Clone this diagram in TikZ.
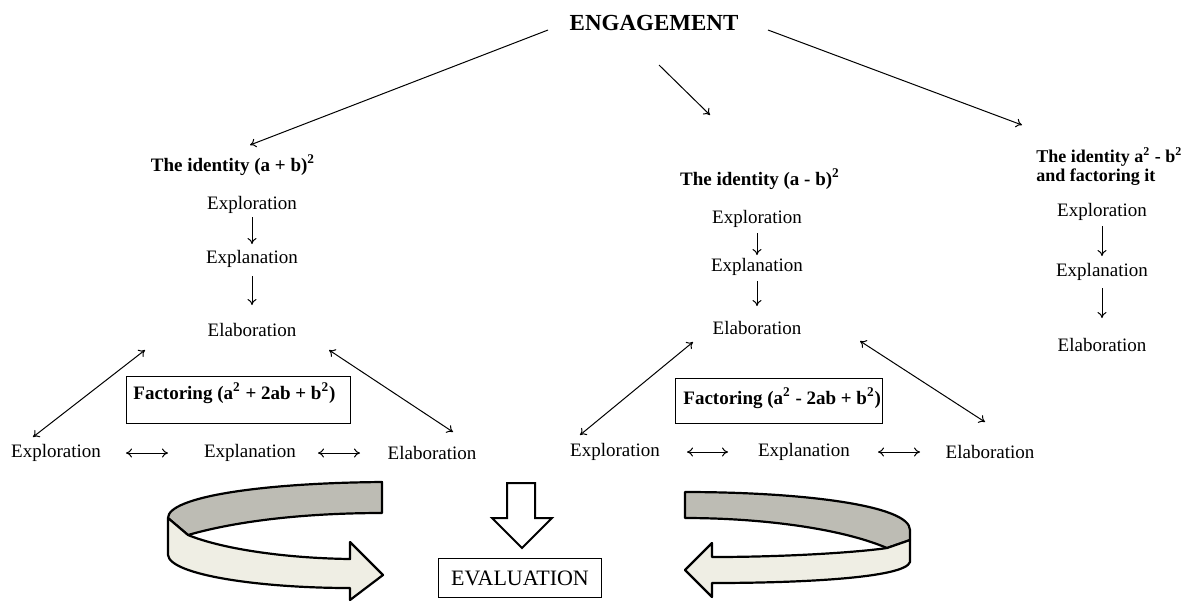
\documentclass[tikz,border=0pt]{standalone}
\usepackage{fontspec}
\setmainfont{Liberation Serif}
\usetikzlibrary{arrows.meta}
\definecolor{backband}{HTML}{BDBCB4}
\definecolor{frontband}{HTML}{EFEEE4}
\begin{document}
\begin{tikzpicture}[x=0.5pt,y=-0.5pt,
  txt/.style={inner sep=0pt, font=\fontsize{9.5}{11}\selectfont},
  ttl/.style={inner sep=0pt, font=\fontsize{9.5}{11}\selectfont\bfseries},
  arr/.style={-{To[length=3pt,width=4.5pt]}, line width=0.5pt},
  darr/.style={{To[length=3pt,width=4.5pt]}-{To[length=3pt,width=4.5pt]}, line width=0.5pt},
  fbox/.style={draw, line width=0.6pt, inner sep=0pt, anchor=north west},
  band/.style={draw, line width=1.1pt, line join=round},
  hollow/.style={draw, fill=white, line width=1pt, line join=miter}]
\useasboundingbox (0,0) rectangle (1187,602);

% top
\node[inner sep=0pt, font=\fontsize{11.5}{13}\selectfont\bfseries] (eng) at (654,23) {ENGAGEMENT};
\coordinate (eL) at (548,30);
\coordinate (eM) at (659,65);
\coordinate (eR) at (768,30);
\coordinate (tL) at (250,145);
\coordinate (tM) at (710,115);
\coordinate (tR) at (1022,125);
\draw[arr] (eL) -- (tL);
\draw[arr] (eM) -- (tM);
\draw[arr] (eR) -- (tR);

% left column
\node[ttl] (t1) at (233,165) {The identity (a + b)\textsuperscript{2}};
\node[txt] (x1) at (252,205) {Exploration};
\node[txt] (p1) at (252,259) {Explanation};
\node[txt] (l1) at (252,330) {Elaboration};
\draw[arr, shorten <=6pt, shorten >=7.5pt] (x1.center) -- (p1.center);
\draw[arr, shorten <=8.5pt, shorten >=12.5pt] (p1.center) -- (l1.center);

\node[fbox, minimum width=112pt, minimum height=23.5pt] (fb1) at (126,376) {};
\node[ttl, anchor=west] (fb1t) at (133,393) {Factoring (a\textsuperscript{2} + 2ab + b\textsuperscript{2})};

\node[txt] (bx1) at (56,453) {Exploration};
\node[txt] (bp1) at (250,453) {Explanation};
\node[txt] (bl1) at (432,453) {Elaboration};
\draw[darr, shorten <=35pt, shorten >=41pt] (bx1.center) -- (bp1.center);
\draw[darr, shorten <=34pt, shorten >=36pt] (bp1.center) -- (bl1.center);
\coordinate (d1a) at (145,350);
\coordinate (d1b) at (33,437);
\coordinate (d2a) at (329,350);
\coordinate (d2b) at (453,432);
\draw[darr] (d1a) -- (d1b);
\draw[darr] (d2a) -- (d2b);

% middle column
\node[ttl] (t2) at (760,179) {The identity (a - b)\textsuperscript{2}};
\node[txt] (x2) at (757,219) {Exploration};
\node[txt] (p2) at (757,267) {Explanation};
\node[txt] (l2) at (757,328) {Elaboration};
\draw[arr, shorten <=7pt, shorten >=6pt] (x2.center) -- (p2.center);
\draw[arr, shorten <=7pt, shorten >=11pt] (p2.center) -- (l2.center);

\node[fbox, minimum width=103.5pt, minimum height=22.5pt] (fb2) at (675,378) {};
\node[ttl, anchor=west] (fb2t) at (683,398) {Factoring (a\textsuperscript{2} - 2ab + b\textsuperscript{2})};

\node[txt] (bx2) at (615,452) {Exploration};
\node[txt] (bp2) at (804,452) {Explanation};
\node[txt] (bl2) at (990,452) {Elaboration};
\draw[darr, shorten <=36pt, shorten >=38pt] (bx2.center) -- (bp2.center);
\draw[darr, shorten <=37pt, shorten >=35pt] (bp2.center) -- (bl2.center);
\coordinate (d3a) at (693,342);
\coordinate (d3b) at (580,435);
\coordinate (d4a) at (860,341);
\coordinate (d4b) at (985,422);
\draw[darr] (d3a) -- (d3b);
\draw[darr] (d4a) -- (d4b);

% right column
\node[inner sep=0pt, anchor=west, font=\fontsize{9}{10.5}\selectfont\bfseries] (t3a) at (1036,157) {The identity a\textsuperscript{2} - b\textsuperscript{2}};
\node[inner sep=0pt, anchor=west, font=\fontsize{9}{10.5}\selectfont\bfseries] (t3b) at (1036,177) {and factoring it};
\node[txt] (x3) at (1102,212) {Exploration};
\node[txt] (p3) at (1102,272) {Explanation};
\node[txt] (l3) at (1102,345) {Elaboration};
\draw[arr, shorten <=7pt, shorten >=8pt] (x3.center) -- (p3.center);
\draw[arr, shorten <=8pt, shorten >=13.5pt] (p3.center) -- (l3.center);

% bottom: evaluation
\node[draw, line width=0.6pt, minimum width=81.5pt, minimum height=19.5pt, inner sep=0pt,
      font=\fontsize{11}{13}\selectfont] (ev) at (520,578) {EVALUATION};
\path[hollow] (507,483) -- (535,483) -- (535,518) -- (552,518) -- (522,548) -- (492,518) -- (507,518) -- cycle;

% left circular arrow
\path[band, fill=backband] (382,482) .. controls (260,483) and (168,497) .. (168,518)
   -- (188,535) .. controls (240,520) and (310,513) .. (382,513) -- cycle;
\path[band, fill=frontband] (168,518) -- (168,555) .. controls (170,575) and (260,588) .. (350,588)
   -- (350,600) -- (383,575) -- (350,542) -- (350,559)
   .. controls (280,558) and (220,548) .. (188,535) -- cycle;

% right circular arrow
\path[band, fill=backband] (685,492) .. controls (800,492) and (910,505) .. (910,530)
   -- (910,540) -- (887,548) .. controls (840,528) and (760,518) .. (685,518) -- cycle;
\path[band, fill=frontband] (910,540) -- (910,562) .. controls (905,578) and (800,583) .. (712,583)
   -- (712,597) -- (685,570) -- (712,543) -- (712,557)
   .. controls (790,557) and (860,552) .. (887,548) -- cycle;
\end{tikzpicture}
\end{document}
